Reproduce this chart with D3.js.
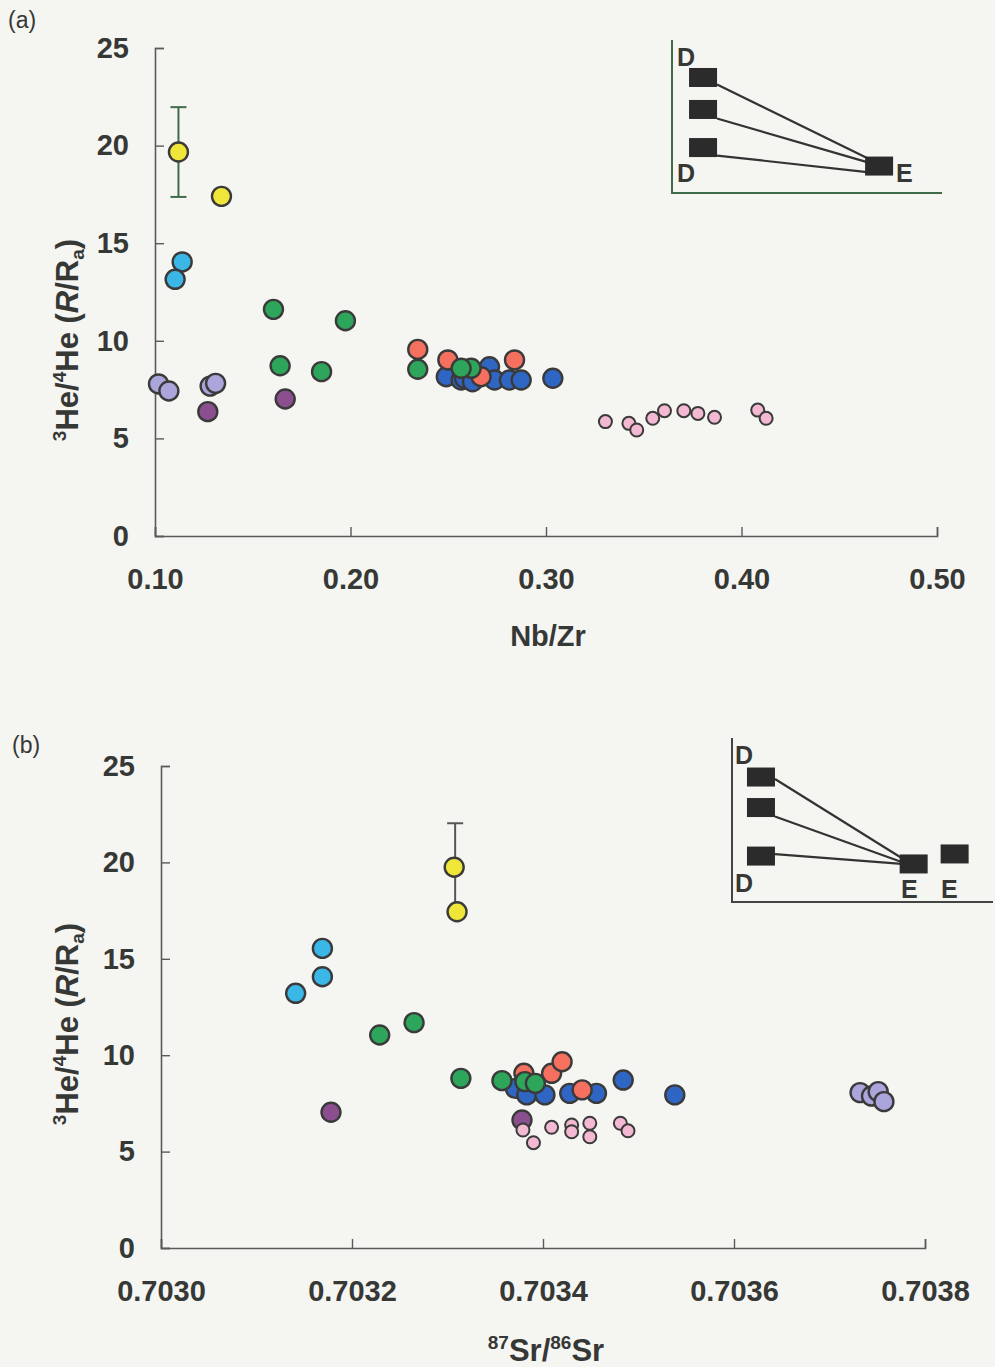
<!DOCTYPE html>
<html>
<head>
<meta charset="utf-8">
<script src="https://cdn.jsdelivr.net/npm/d3@7"></script>
<style>
  html, body { margin: 0; padding: 0; background: #f5f5f2; }
  svg { display: block; font-family: "Liberation Sans", Arial, sans-serif; }
</style>
</head>
<body>
<svg id="chart" width="995" height="1367"></svg>
<script>
// ---------- Panel (a): 3He/4He vs Nb/Zr ----------
const nbzrTicks = [0.10, 0.20, 0.30, 0.40, 0.50];
const heTicks = [0, 5, 10, 15, 20, 25];

const aLavender = [[0.1018, 7.79], [0.1071, 7.43], [0.1282, 7.68], [0.1310, 7.82]];
const aPurple   = [[0.1270, 6.37], [0.1666, 7.02]];
const aPink     = [[0.3304, 5.86], [0.3424, 5.77], [0.3464, 5.43], [0.3546, 6.03], [0.3606, 6.42],
                   [0.3705, 6.42], [0.3777, 6.28], [0.3862, 6.08], [0.4083, 6.45], [0.4126, 6.03]];
const aBlue     = [[0.2490, 8.16], [0.2566, 7.99], [0.2583, 8.08], [0.2624, 7.90], [0.2711, 8.67],
                   [0.2737, 7.99], [0.2813, 7.99], [0.2873, 7.99], [0.3035, 8.08]];
const aRed      = [[0.2344, 9.56], [0.2498, 9.02], [0.2668, 8.16], [0.2839, 9.02]];
const aGreen    = [[0.1606, 11.61], [0.1974, 11.03], [0.1640, 8.72], [0.1852, 8.42],
                   [0.2344, 8.54], [0.2617, 8.59], [0.2566, 8.59]];
const aCyan     = [[0.1139, 14.04], [0.1103, 13.15]];
const aYellow   = [[0.1120, 19.67], [0.1340, 17.40]];
const aErrorBar = [[0.1120, 17.37, 21.97]];

// ---------- Panel (b): 3He/4He vs 87Sr/86Sr ----------
const srTicks = [0.7030, 0.7032, 0.7034, 0.7036, 0.7038];

const bLavender = [[0.703732, 8.06], [0.703744, 7.88], [0.703751, 8.11], [0.703757, 7.59]];
const bPurple   = [[0.703178, 7.04], [0.703378, 6.64]];
const bPink     = [[0.703379, 6.12], [0.703390, 5.46], [0.703409, 6.26], [0.703430, 6.38], [0.703430, 6.03],
                   [0.703449, 6.47], [0.703449, 5.77], [0.703481, 6.47], [0.703489, 6.08]];
const bBlue     = [[0.703371, 8.28], [0.703383, 7.94], [0.703402, 7.94], [0.703428, 8.02],
                   [0.703456, 8.02], [0.703484, 8.71], [0.703538, 7.94]];
const bRed      = [[0.703380, 9.06], [0.703409, 9.06], [0.703420, 9.66], [0.703441, 8.20]];
const bGreen    = [[0.703229, 11.05], [0.703265, 11.69], [0.703314, 8.80], [0.703357, 8.68],
                   [0.703381, 8.63], [0.703392, 8.54]];
const bCyan     = [[0.703169, 15.54], [0.703169, 14.07], [0.703141, 13.21]];
const bYellow   = [[0.703307, 19.75], [0.703310, 17.44]];
const bErrorBar = [[0.703308, 17.44, 22.03]];

// ---------- Schematic mixing insets (arbitrary units) ----------
const insetA_D = [[1.15, 7.55], [1.15, 5.46], [1.15, 2.97]];
const insetA_E = [[7.67, 1.76]];
const insetB_D = [[1.11, 7.62], [1.11, 5.76], [1.11, 2.80]];
const insetB_E = [[6.96, 2.32], [8.53, 2.93]];

const colors = {
  lavender: "#aaa5da", purple: "#8b4f8f", pink: "#f3b8d2", blue: "#2f66c4",
  red: "#f6705f", green: "#2da65b", cyan: "#3ab7e6", yellow: "#f0e63a"
};
const ink = "#353835";
const axisColor = "#5a5a5a";

const svg = d3.select("#chart");

function heLabel(g, x, y) {
  const t = g.append("text")
    .attr("transform", `translate(${x},${y}) rotate(-90)`)
    .attr("text-anchor", "middle")
    .attr("font-size", 31).attr("font-weight", "bold").attr("fill", ink);
  t.append("tspan").attr("font-size", 19).attr("dy", -12).text("3");
  t.append("tspan").attr("dy", 12).text("He/");
  t.append("tspan").attr("font-size", 19).attr("dy", -12).text("4");
  t.append("tspan").attr("dy", 12).text("He (");
  t.append("tspan").attr("font-style", "italic").text("R");
  t.append("tspan").text("/R");
  t.append("tspan").attr("font-size", 19).attr("dy", 6).text("a");
  t.append("tspan").attr("dy", -6).text(")");
}

function panel(opt) {
  const g = svg.append("g");
  const x = d3.scaleLinear().domain(opt.xDomain).range(opt.xRange);
  const y = d3.scaleLinear().domain([0, 25]).range(opt.yRange);

  // axes with inward ticks
  const yAxis = g.append("g").attr("transform", `translate(${opt.xRange[0]},0)`)
    .call(d3.axisLeft(y).tickValues(heTicks).tickSize(-9).tickPadding(26).tickFormat(d3.format("d")));
  const xAxis = g.append("g").attr("transform", `translate(0,${opt.yRange[0]})`)
    .call(d3.axisBottom(x).tickValues(opt.xTicks).tickSize(-9).tickPadding(32).tickFormat(opt.xFormat));
  [xAxis, yAxis].forEach(a => {
    a.select(".domain").attr("stroke", axisColor).attr("stroke-width", 1.6);
    a.selectAll(".tick line").attr("stroke", axisColor).attr("stroke-width", 1.4);
    a.selectAll(".tick text").attr("fill", ink).attr("font-size", 29).attr("font-weight", "bold")
      .attr("font-family", "'Liberation Sans', Arial, sans-serif");
  });
  xAxis.selectAll(".tick text").attr("dy", "0.71em");

  // error bars
  opt.errors.forEach(e => {
    const xe = x(e[0]);
    g.append("line").attr("x1", xe).attr("x2", xe).attr("y1", y(e[1])).attr("y2", y(e[2]))
      .attr("stroke", opt.errColor).attr("stroke-width", 2);
    [e[1], e[2]].forEach(v => g.append("line")
      .attr("x1", xe - 8).attr("x2", xe + 8).attr("y1", y(v)).attr("y2", y(v))
      .attr("stroke", opt.errColor).attr("stroke-width", 2));
  });

  // data series
  opt.series.forEach(s => {
    g.append("g").selectAll("circle").data(s.data).join("circle")
      .attr("cx", d => x(d[0])).attr("cy", d => y(d[1]))
      .attr("r", s.r).attr("fill", colors[s.color])
      .attr("stroke", "#3a3a3a").attr("stroke-width", s.r > 7 ? 2.4 : 2);
  });

  return { x, y, g };
}

panel({
  xDomain: [0.10, 0.50], xRange: [155, 937], yRange: [536, 48],
  xTicks: nbzrTicks, xFormat: d3.format(".2f"), errColor: "#3f6b48",
  errors: aErrorBar,
  series: [
    { data: aLavender, color: "lavender", r: 9.5 },
    { data: aPurple, color: "purple", r: 9.5 },
    { data: aPink, color: "pink", r: 6.5 },
    { data: aBlue, color: "blue", r: 9.5 },
    { data: aRed, color: "red", r: 9.5 },
    { data: aGreen, color: "green", r: 9.5 },
    { data: aCyan, color: "cyan", r: 9.5 },
    { data: aYellow, color: "yellow", r: 9.5 }
  ]
});

panel({
  xDomain: [0.7030, 0.7038], xRange: [161, 925], yRange: [1248, 766],
  xTicks: srTicks, xFormat: d3.format(".4f"), errColor: "#555555",
  errors: bErrorBar,
  series: [
    { data: bLavender, color: "lavender", r: 9.5 },
    { data: bPurple, color: "purple", r: 9.5 },
    { data: bPink, color: "pink", r: 6.5 },
    { data: bBlue, color: "blue", r: 9.5 },
    { data: bRed, color: "red", r: 9.5 },
    { data: bGreen, color: "green", r: 9.5 },
    { data: bCyan, color: "cyan", r: 9.5 },
    { data: bYellow, color: "yellow", r: 9.5 }
  ]
});

// axis titles
heLabel(svg, 78, 340);
heLabel(svg, 78, 1024);

svg.append("text").attr("x", 548).attr("y", 646).attr("text-anchor", "middle")
  .attr("font-size", 29).attr("font-weight", "bold").attr("fill", ink).text("Nb/Zr");

const srT = svg.append("text").attr("x", 546).attr("y", 1361).attr("text-anchor", "middle")
  .attr("font-size", 31).attr("font-weight", "bold").attr("fill", ink);
srT.append("tspan").attr("font-size", 19).attr("dy", -12).text("87");
srT.append("tspan").attr("dy", 12).text("Sr/");
srT.append("tspan").attr("font-size", 19).attr("dy", -12).text("86");
srT.append("tspan").attr("dy", 12).text("Sr");

// panel letters
svg.append("text").attr("x", 8).attr("y", 28).attr("font-size", 23).attr("fill", ink).text("(a)");
svg.append("text").attr("x", 12).attr("y", 753).attr("font-size", 23).attr("fill", ink).text("(b)");

// ---------- insets ----------
function inset(opt) {
  const g = svg.append("g");
  const x = d3.scaleLinear().domain([0, 10]).range(opt.xRange);
  const y = d3.scaleLinear().domain([0, 10]).range(opt.yRange);
  const w = 28, h = 19;
  g.append("path")
    .attr("d", `M${opt.xRange[0]},${opt.yRange[1]}V${opt.yRange[0]}H${opt.xRange[1]}`)
    .attr("fill", "none").attr("stroke", opt.axisColor).attr("stroke-width", 2);
  const e0 = opt.E[0];
  opt.D.forEach((d, i) => {
    g.append("line")
      .attr("x1", x(d[0]) + w / 2).attr("y1", y(d[1]) + opt.startOff[i])
      .attr("x2", x(e0[0]) - w / 2 + 2).attr("y2", y(e0[1]) + opt.endOff[i])
      .attr("stroke", "#333").attr("stroke-width", 2.2);
  });
  opt.D.concat(opt.E).forEach(d => {
    g.append("rect").attr("x", x(d[0]) - w / 2).attr("y", y(d[1]) - h / 2)
      .attr("width", w).attr("height", h).attr("fill", "#2b2b2b");
  });
  opt.labels.forEach(l => {
    g.append("text").attr("x", l[1]).attr("y", l[2]).attr("font-size", 25)
      .attr("font-weight", "bold").attr("fill", ink).text(l[0]);
  });
}

inset({
  xRange: [672, 942], yRange: [193, 40], axisColor: "#3f6b48",
  D: insetA_D, E: insetA_E, startOff: [7, 9, 8], endOff: [-8, -4, 6],
  labels: [["D", 677, 66], ["D", 677, 182], ["E", 896, 182]]
});
inset({
  xRange: [732, 993], yRange: [902, 738], axisColor: "#444",
  D: insetB_D, E: insetB_E, startOff: [2, 9, -2], endOff: [-6, -2, 0],
  labels: [["D", 735, 764], ["D", 735, 892], ["E", 901, 898], ["E", 941, 898]]
});
</script>
</body>
</html>
